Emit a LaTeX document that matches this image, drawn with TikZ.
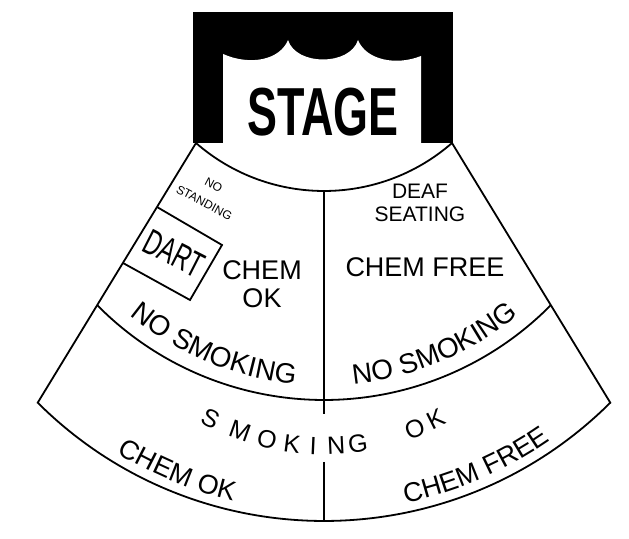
\documentclass[tikz,border=0pt]{standalone}
\usepackage{fontspec}
\setmainfont{Liberation Sans}
\usepackage{graphicx}
\usetikzlibrary{calc,decorations.text}
\newcommand{\fanfont}{\fontsize{28}{30}\selectfont}
\newcommand{\lowfont}{\fontsize{27}{29}\selectfont}

\begin{document}
\begin{tikzpicture}[x=1pt,y=1pt,
  fan/.style={line width=1.8pt},
  lbl/.style={inner sep=0pt, align=center, font=\fontsize{27}{28}\selectfont},
  spaced/.style={inner sep=0pt, font=\fontsize{25}{25}\selectfont}]
\useasboundingbox (0,0) rectangle (629,538);
% centres of the arcs
\coordinate (cI) at (324,541.7);
\coordinate (cM) at (324,456.7);
\coordinate (cO) at (324,422.6);
\coordinate (cS) at (324,341);

% stage with curtain
\fill (193,395) rectangle (453,526);
\fill[white] (223,395) -- (223,484) .. controls (250,472) and (280,478) .. (288,498)
  .. controls (296,472) and (350,472) .. (358,498)
  .. controls (366,478) and (396,472) .. (421,482) -- (421,395) -- cycle;
\node[inner sep=0pt, font=\bfseries\fontsize{68}{68}\selectfont] (stage) at (323,426) {\scalebox{0.66}[1]{STAGE}};

% seating fan
\coordinate (iL) at ($(cI)+(228.9:194.7)$);
\coordinate (oR) at ($(cO)+(314.9:405.6)$);
\coordinate (mL) at ($(cM)+(224.6:318.7)$);
\draw[fan] (iL) arc[start angle=228.9, end angle=311.1, radius=194.7] -- (oR)
  arc[start angle=314.9, end angle=225.1, radius=405.6] -- cycle;
\draw[fan] (mL) arc[start angle=224.6, end angle=315.4, radius=318.7];

% centre aisle
\coordinate (ctop) at (324,347);
\coordinate (gapA) at (324,124);
\coordinate (gapB) at (324,76);
\coordinate (cbot) at (324,17);
\draw[fan] (ctop) -- (gapA);
\draw[fan] (gapB) -- (cbot);

% dart box
\coordinate (dA) at (157,331);
\coordinate (dB) at (222,293);
\coordinate (dC) at (190,238);
\coordinate (dD) at (123,275);
\draw[fan] (dA) -- (dB) -- (dC) -- (dD);
\node[inner sep=0pt, rotate=-27, font=\fontsize{36}{36}\selectfont] (dart) at (174,284.5) {\scalebox{0.65}[1]{DART}};

% upper labels
\node[inner sep=0pt, align=center, rotate=-28, font=\fontsize{12}{20}\selectfont] (nostand) at (209,344) {NO\\STANDING};
\node[lbl] (chemok) at (262,254) {CHEM\\OK};
\node[inner sep=0pt, align=center, font=\fontsize{21}{23}\selectfont] (deaf) at (420,335.5) {DEAF\\SEATING};
\node[lbl] (chemfree) at (425,271) {CHEM FREE};

% curved labels
\path[decorate, decoration={text along path, text align=center, text={|\fanfont|NO SMOKING}}]
  ($(cM)+(214.9:304)$) arc[start angle=214.9, end angle=279.9, radius=304];
\path[decorate, decoration={text along path, text align=center, text={|\fanfont|NO SMOKING}}]
  ($(cM)+(260.2:304)$) arc[start angle=260.2, end angle=325.2, radius=304];
\path[decorate, decoration={text along path, text align=center, text={|\lowfont|CHEM OK}}]
  ($(cO)+(215:396)$) arc[start angle=215, end angle=280.2, radius=396];
\path[decorate, decoration={text along path, text align=center, text={|\lowfont|CHEM FREE}}]
  ($(cO)+(260.8:396)$) arc[start angle=260.8, end angle=326, radius=396];
\foreach \ch/\ang [count=\i] in {S/243.0,M/250.3,O/256.8,K/262.6,I/267.5,N/272.8,G/277.8,O/291.4,K/296.7}
  \node[spaced, rotate=\ang+90] (sm\i) at ($(cS)+(\ang:249)$) {\ch};
\end{tikzpicture}
\end{document}
